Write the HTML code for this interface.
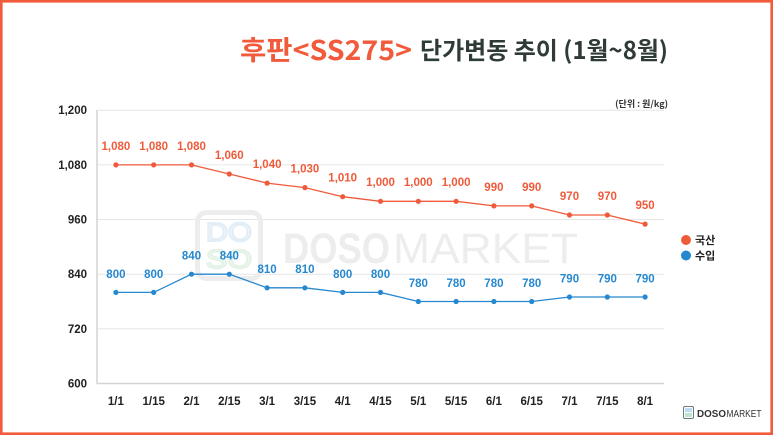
<!DOCTYPE html>
<html>
<head>
<meta charset="utf-8">
<style>
html,body{margin:0;padding:0;background:#fff;}
svg{display:block;}
text{font-family:"Liberation Sans","Noto Sans CJK KR",sans-serif;}
.kr{font-family:"Noto Sans CJK KR","Liberation Sans",sans-serif;}
.yl{font-size:11.5px;font-weight:bold;fill:#222;text-anchor:end;}
.xl{font-size:11.5px;font-weight:bold;fill:#222;text-anchor:middle;}
.ol{font-size:11.5px;font-weight:bold;fill:#ef5a3a;text-anchor:middle;}
.bl{font-size:11.5px;font-weight:bold;fill:#2688cf;text-anchor:middle;}
</style>
</head>
<body>
<svg width="773" height="435" viewBox="0 0 773 435" xmlns="http://www.w3.org/2000/svg">
  <rect x="0" y="0" width="773" height="435" fill="#fff"/>

  <!-- title -->
  <text class="kr" x="240" y="60" font-size="27" font-weight="bold" fill="#f15a3b" textLength="172" lengthAdjust="spacingAndGlyphs">후판&lt;SS275&gt;</text>
  <text class="kr" x="420" y="59" font-size="24" font-weight="bold" fill="#2e3b36" textLength="248" lengthAdjust="spacingAndGlyphs">단가변동 추이 (1월~8월)</text>

  <!-- unit -->
  <text class="kr" x="668" y="107" font-size="9" font-weight="bold" fill="#333" text-anchor="end">(단위 : 원/kg)</text>

  <!-- gridlines -->
  <g stroke="#e6e6e6" stroke-width="1">
    <line x1="97" y1="110.2" x2="664" y2="110.2"/>
    <line x1="97" y1="164.9" x2="664" y2="164.9"/>
    <line x1="97" y1="219.5" x2="664" y2="219.5"/>
    <line x1="97" y1="274.2" x2="664" y2="274.2"/>
    <line x1="97" y1="328.8" x2="664" y2="328.8"/>
  </g>

  <!-- watermark -->
  <g>
    <rect x="197.5" y="212.5" width="63" height="66" rx="9" fill="none" stroke="#ededed" stroke-width="5"/>
    <text x="206" y="241" font-size="26" fill="none" stroke="#e2eef7" stroke-width="2" textLength="46" lengthAdjust="spacingAndGlyphs">DO</text>
    <text x="206" y="268" font-size="26" fill="none" stroke="#e4f2e8" stroke-width="2" textLength="46" lengthAdjust="spacingAndGlyphs">SO</text>
    <text x="283" y="263" font-size="43" font-weight="bold" fill="#ededed" textLength="107" lengthAdjust="spacingAndGlyphs">DOSO</text>
    <text x="393" y="263" font-size="43" fill="#ededed" textLength="185" lengthAdjust="spacingAndGlyphs">MARKET</text>
  </g>

  <!-- axes -->
  <line x1="97" y1="110" x2="97" y2="383.5" stroke="#d4d4d4" stroke-width="1.5"/>
  <line x1="96.5" y1="383.5" x2="664" y2="383.5" stroke="#d4d4d4" stroke-width="1.5"/>

  <!-- y labels -->
  <text class="yl" x="87" y="114">1,200</text>
  <text class="yl" x="87" y="169">1,080</text>
  <text class="yl" x="87" y="223.5">960</text>
  <text class="yl" x="87" y="278">840</text>
  <text class="yl" x="87" y="333">720</text>
  <text class="yl" x="87" y="387.5">600</text>

  <!-- x labels -->
  <g>
    <text class="xl" x="115.9" y="405">1/1</text>
    <text class="xl" x="153.7" y="405">1/15</text>
    <text class="xl" x="191.5" y="405">2/1</text>
    <text class="xl" x="229.3" y="405">2/15</text>
    <text class="xl" x="267.1" y="405">3/1</text>
    <text class="xl" x="304.9" y="405">3/15</text>
    <text class="xl" x="342.7" y="405">4/1</text>
    <text class="xl" x="380.5" y="405">4/15</text>
    <text class="xl" x="418.3" y="405">5/1</text>
    <text class="xl" x="456.1" y="405">5/15</text>
    <text class="xl" x="493.9" y="405">6/1</text>
    <text class="xl" x="531.7" y="405">6/15</text>
    <text class="xl" x="569.5" y="405">7/1</text>
    <text class="xl" x="607.3" y="405">7/15</text>
    <text class="xl" x="645.1" y="405">8/1</text>
  </g>

  <!-- orange series -->
  <polyline fill="none" stroke="#ef5a3a" stroke-width="1.3"
    points="115.9,164.9 153.7,164.9 191.5,164.9 229.3,174.0 267.1,183.1 304.9,187.6 342.7,196.7 380.5,201.3 418.3,201.3 456.1,201.3 493.9,205.9 531.7,205.9 569.5,215.0 607.3,215.0 645.1,224.1"/>
  <g fill="#ef5a3a">
    <circle cx="115.9" cy="164.9" r="2.6"/><circle cx="153.7" cy="164.9" r="2.6"/><circle cx="191.5" cy="164.9" r="2.6"/>
    <circle cx="229.3" cy="174.0" r="2.6"/><circle cx="267.1" cy="183.1" r="2.6"/><circle cx="304.9" cy="187.6" r="2.6"/>
    <circle cx="342.7" cy="196.7" r="2.6"/><circle cx="380.5" cy="201.3" r="2.6"/><circle cx="418.3" cy="201.3" r="2.6"/>
    <circle cx="456.1" cy="201.3" r="2.6"/><circle cx="493.9" cy="205.9" r="2.6"/><circle cx="531.7" cy="205.9" r="2.6"/>
    <circle cx="569.5" cy="215.0" r="2.6"/><circle cx="607.3" cy="215.0" r="2.6"/><circle cx="645.1" cy="224.1" r="2.6"/>
  </g>
  <g>
    <text class="ol" x="115.9" y="150">1,080</text>
    <text class="ol" x="153.7" y="150">1,080</text>
    <text class="ol" x="191.5" y="150">1,080</text>
    <text class="ol" x="229.3" y="159">1,060</text>
    <text class="ol" x="267.1" y="168">1,040</text>
    <text class="ol" x="304.9" y="172.5">1,030</text>
    <text class="ol" x="342.7" y="181.5">1,010</text>
    <text class="ol" x="380.5" y="186">1,000</text>
    <text class="ol" x="418.3" y="186">1,000</text>
    <text class="ol" x="456.1" y="186">1,000</text>
    <text class="ol" x="493.9" y="191">990</text>
    <text class="ol" x="531.7" y="191">990</text>
    <text class="ol" x="569.5" y="200">970</text>
    <text class="ol" x="607.3" y="200">970</text>
    <text class="ol" x="645.1" y="209">950</text>
  </g>

  <!-- blue series -->
  <polyline fill="none" stroke="#2688cf" stroke-width="1.3"
    points="115.9,292.4 153.7,292.4 191.5,274.2 229.3,274.2 267.1,287.8 304.9,287.8 342.7,292.4 380.5,292.4 418.3,301.5 456.1,301.5 493.9,301.5 531.7,301.5 569.5,297.0 607.3,297.0 645.1,297.0"/>
  <g fill="#2688cf">
    <circle cx="115.9" cy="292.4" r="2.6"/><circle cx="153.7" cy="292.4" r="2.6"/><circle cx="191.5" cy="274.2" r="2.6"/>
    <circle cx="229.3" cy="274.2" r="2.6"/><circle cx="267.1" cy="287.8" r="2.6"/><circle cx="304.9" cy="287.8" r="2.6"/>
    <circle cx="342.7" cy="292.4" r="2.6"/><circle cx="380.5" cy="292.4" r="2.6"/><circle cx="418.3" cy="301.5" r="2.6"/>
    <circle cx="456.1" cy="301.5" r="2.6"/><circle cx="493.9" cy="301.5" r="2.6"/><circle cx="531.7" cy="301.5" r="2.6"/>
    <circle cx="569.5" cy="297.0" r="2.6"/><circle cx="607.3" cy="297.0" r="2.6"/><circle cx="645.1" cy="297.0" r="2.6"/>
  </g>
  <g>
    <text class="bl" x="115.9" y="278">800</text>
    <text class="bl" x="153.7" y="278">800</text>
    <text class="bl" x="191.5" y="259.5">840</text>
    <text class="bl" x="229.3" y="259.5">840</text>
    <text class="bl" x="267.1" y="273">810</text>
    <text class="bl" x="304.9" y="273">810</text>
    <text class="bl" x="342.7" y="278">800</text>
    <text class="bl" x="380.5" y="278">800</text>
    <text class="bl" x="418.3" y="287">780</text>
    <text class="bl" x="456.1" y="287">780</text>
    <text class="bl" x="493.9" y="287">780</text>
    <text class="bl" x="531.7" y="287">780</text>
    <text class="bl" x="569.5" y="282.5">790</text>
    <text class="bl" x="607.3" y="282.5">790</text>
    <text class="bl" x="645.1" y="282.5">790</text>
  </g>

  <!-- legend -->
  <circle cx="686" cy="240" r="5" fill="#ef5a3a"/>
  <text class="kr" x="695" y="244" font-size="11" font-weight="bold" fill="#222">국산</text>
  <circle cx="686" cy="255.5" r="5" fill="#2688cf"/>
  <text class="kr" x="695" y="259.5" font-size="11" font-weight="bold" fill="#222">수입</text>

  <!-- bottom logo -->
  <rect x="683.5" y="406.5" width="10" height="12" rx="1.5" fill="#fff" stroke="#6b7b80" stroke-width="1"/>
  <rect x="685" y="408" width="7" height="4" fill="#bcdcf2"/>
  <rect x="685" y="413" width="7" height="4" fill="#bfe5cc"/>
  <text x="697" y="417" font-size="10.5" font-weight="bold" fill="#333" textLength="29" lengthAdjust="spacingAndGlyphs">DOSO</text>
  <text x="726.5" y="417" font-size="10.5" fill="#333" textLength="35" lengthAdjust="spacingAndGlyphs">MARKET</text>

  <!-- border -->
  <rect x="1.25" y="1.25" width="770.5" height="432.5" fill="none" stroke="#f15a3b" stroke-width="2.7"/>
</svg>
</body>
</html>
